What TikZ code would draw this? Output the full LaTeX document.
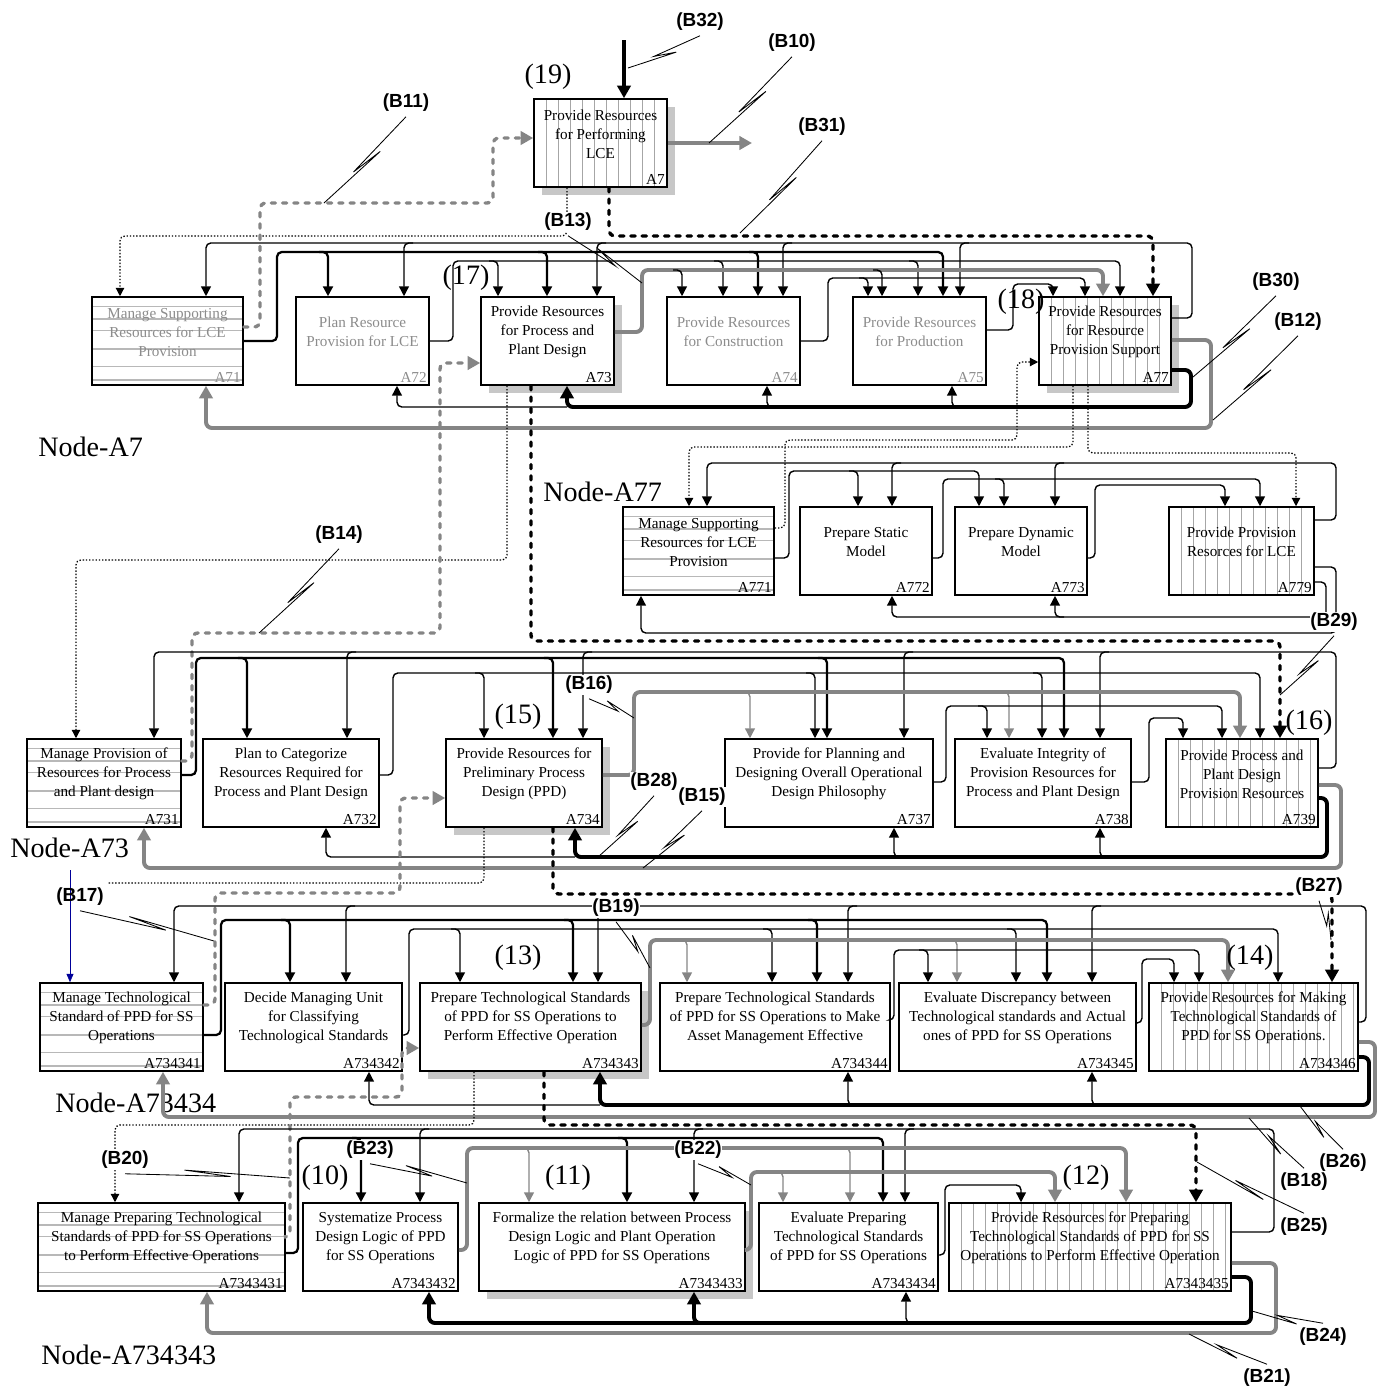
\documentclass[tikz,border=0pt]{standalone}
\usepackage{fontspec}
\setmainfont{Liberation Serif}
\setsansfont{Liberation Sans}
\usetikzlibrary{calc,arrows.meta}

\newcommand{\boxfont}{\fontsize{10.8}{13.5}\selectfont}
\newcommand{\blabfont}{\sffamily\bfseries\fontsize{13.5}{15}\selectfont}
\newcommand{\numfont}{\fontsize{20}{22}\selectfont}
\newcommand{\nodefont}{\fontsize{20}{22}\selectfont}
\newcommand{\squig}[2]{\draw[leader] (#1) -- ($(#1)!.64!(#2)$) -- ($(#1)!.36!(#2)!1.3mm!90:(#2)$) -- (#2);}

\tikzset{
    box/.style={draw, line width=1.1pt, fill=white, minimum height=22mm, inner sep=0pt},
    wd/.style={minimum width=#1*0.25mm},
    boxtext/.style={align=center, font=\boxfont, inner sep=0pt},
    idtag/.style={anchor=south east, inner sep=2pt, font=\boxfont},
    dim/.style={text=black!45},
    shadowed/.style={preaction={fill=black!22, transform canvas={shift={(2mm,-2mm)}}}},
    vlines/.style={path picture={
        \foreach \i in {1,...,24}
            \draw[black!35, line width=0.5pt] ([xshift=\i*3mm]path picture bounding box.south west) -- ([xshift=\i*3mm]path picture bounding box.north west);}},
    hlines/.style={path picture={
        \foreach \f in {.11,.25,.38,.59,.79,.94}
            \draw[black!28, line width=1.1pt] ($(path picture bounding box.north west)!\f!(path picture bounding box.south west)$) -- ($(path picture bounding box.north east)!\f!(path picture bounding box.south east)$);}},
    conn/.style={line width=1pt, rounded corners=1.2mm, -{Triangle[length=7pt,width=7pt]}},
    connb/.style={conn, line width=1.6pt},
    greyconn/.style={conn, draw=black!48},
    back/.style={line width=2.8pt, rounded corners=1.5mm, -{Triangle[length=9pt,width=9.5pt]}},
    greyback/.style={back, draw=black!48},
    dashback/.style={back, line width=2.4pt, line cap=round, dash pattern=on 3pt off 5pt},
    greydash/.style={greyback, line width=2.4pt, line cap=round, dash pattern=on 3pt off 5pt},
    dotconn/.style={line width=0.9pt, rounded corners=1.2mm, dash pattern=on 1pt off 1.3pt, -{Triangle[length=6pt,width=6pt]}},
    dotline/.style={line width=0.9pt, rounded corners=1.2mm, dash pattern=on 1pt off 1.3pt},
    bluearr/.style={draw=blue!60!black, line width=0.5pt, -{Triangle[length=6pt,width=5pt]}},
    leader/.style={line width=0.6pt},
    blab/.style={font=\blabfont, fill=white, inner sep=0.5pt, outer sep=3pt},
    numlab/.style={font=\numfont, inner sep=0pt},
    nodelab/.style={font=\nodefont, anchor=west, inner sep=0pt}
}

\begin{document}
\begin{tikzpicture}[x=0.25mm, y=-0.25mm]
\useasboundingbox (0,0) rectangle (1378,1390);

% ===== top activity =====
\node[box, wd=133, vlines, shadowed, label={[idtag]south east:A7}] (a7) at (600.5,143) {};
\node[boxtext] (a7-t) at ([yshift=2.2mm]a7.center) {Provide Resources\\for Performing\\LCE};

% ===== Node-A7 =====
\node[box, wd=151, hlines, label={[idtag,dim]south east:A71}] (a71) at (167.5,341) {};
\node[boxtext, dim] (a71-t) at ([yshift=2.2mm]a71.center) {Manage Supporting\\Resources for LCE\\Provision};
\node[box, wd=133, label={[idtag,dim]south east:A72}] (a72) at (362.5,341) {};
\node[boxtext, dim] (a72-t) at ([yshift=2.2mm]a72.center) {Plan Resource\\Provision for LCE};
\node[box, wd=133, shadowed, label={[idtag]south east:A73}] (a73) at (547.5,341) {};
\node[boxtext] (a73-t) at ([yshift=2.2mm]a73.center) {Provide Resources\\for Process and\\Plant Design};
\node[box, wd=133, label={[idtag,dim]south east:A74}] (a74) at (733.5,341) {};
\node[boxtext, dim] (a74-t) at ([yshift=2.2mm]a74.center) {Provide Resources\\for Construction};
\node[box, wd=133, label={[idtag,dim]south east:A75}] (a75) at (919.5,341) {};
\node[boxtext, dim] (a75-t) at ([yshift=2.2mm]a75.center) {Provide Resources\\for Production};
\node[box, wd=132, vlines, shadowed, label={[idtag]south east:A77}] (a77) at (1105,341) {};
\node[boxtext] (a77-t) at ([yshift=2.2mm]a77.center) {Provide Resources\\for Resource\\Provision Support};

% ===== Node-A77 =====
\node[box, wd=151, hlines, label={[idtag]south east:A771}] (a771) at (698.5,551) {};
\node[boxtext] (a771-t) at ([yshift=2.2mm]a771.center) {Manage Supporting\\Resources for LCE\\Provision};
\node[box, wd=132, label={[idtag]south east:A772}] (a772) at (866,551) {};
\node[boxtext] (a772-t) at ([yshift=2.2mm]a772.center) {Prepare Static\\Model};
\node[box, wd=132, label={[idtag]south east:A773}] (a773) at (1021,551) {};
\node[boxtext] (a773-t) at ([yshift=2.2mm]a773.center) {Prepare Dynamic\\Model};
\node[box, wd=145, vlines, label={[idtag]south east:A779}] (a779) at (1241.5,551) {};
\node[boxtext] (a779-t) at ([yshift=2.2mm]a779.center) {Provide Provision\\Resorces for LCE};

% ===== Node-A73 =====
\node[box, wd=154, hlines, label={[idtag]south east:A731}] (a731) at (104,783) {};
\node[boxtext] (a731-t) at ([yshift=2.2mm]a731.center) {Manage Provision of\\Resources for Process\\and Plant design};
\node[box, wd=176, label={[idtag]south east:A732}] (a732) at (291,783) {};
\node[boxtext] (a732-t) at ([yshift=2.2mm]a732.center) {Plan to Categorize\\Resources Required for\\Process and Plant Design};
\node[box, wd=156, shadowed, label={[idtag]south east:A734}] (a734) at (524,783) {};
\node[boxtext] (a734-t) at ([yshift=2.2mm]a734.center) {Provide Resources for\\Preliminary Process\\Design (PPD)};
\node[box, wd=208, label={[idtag]south east:A737}] (a737) at (829,783) {};
\node[boxtext] (a737-t) at ([yshift=2.2mm]a737.center) {Provide for Planning and\\Designing Overall Operational\\Design Philosophy};
\node[box, wd=176, label={[idtag]south east:A738}] (a738) at (1043,783) {};
\node[boxtext] (a738-t) at ([yshift=2.2mm]a738.center) {Evaluate Integrity of\\Provision Resources for\\Process and Plant Design};
\node[box, wd=152, vlines, label={[idtag]south east:A739}] (a739) at (1242,783) {};
\node[boxtext] (a739-t) at ([yshift=2.2mm]a739.center) {Provide Process and\\Plant Design\\Provision Resources};

% ===== Node-A73434 =====
\node[box, wd=163, hlines, label={[idtag]south east:A734341}] (a734341) at (121.5,1027) {};
\node[boxtext] (a734341-t) at ([yshift=2.2mm]a734341.center) {Manage Technological\\Standard of PPD for SS\\Operations};
\node[box, wd=177, label={[idtag]south east:A734342}] (a734342) at (313.5,1027) {};
\node[boxtext] (a734342-t) at ([yshift=2.2mm]a734342.center) {Decide Managing Unit\\for Classifying\\Technological Standards};
\node[box, wd=221, shadowed, label={[idtag]south east:A734343}] (a734343) at (530.5,1027) {};
\node[boxtext] (a734343-t) at ([yshift=2.2mm]a734343.center) {Prepare Technological Standards\\of PPD for SS Operations to\\Perform Effective Operation};
\node[box, wd=230, label={[idtag]south east:A734344}] (a734344) at (775,1027) {};
\node[boxtext] (a734344-t) at ([yshift=2.2mm]a734344.center) {Prepare Technological Standards\\of PPD for SS Operations to Make\\Asset Management Effective};
\node[box, wd=237, label={[idtag]south east:A734345}] (a734345) at (1017.5,1027) {};
\node[boxtext] (a734345-t) at ([yshift=2.2mm]a734345.center) {Evaluate Discrepancy between\\Technological standards and Actual\\ones of PPD for SS Operations};
\node[box, wd=209, vlines, label={[idtag]south east:A734346}] (a734346) at (1253.5,1027) {};
\node[boxtext] (a734346-t) at ([yshift=2.2mm]a734346.center) {Provide Resources for Making\\Technological Standards of\\PPD for SS Operations.};

% ===== Node-A734343 =====
\node[box, wd=247, hlines, label={[idtag]south east:A7343431}] (a7343431) at (161.5,1247) {};
\node[boxtext] (a7343431-t) at ([yshift=2.2mm]a7343431.center) {Manage Preparing Technological\\Standards of PPD for SS Operations\\to Perform Effective Operations};
\node[box, wd=155, label={[idtag]south east:A7343432}] (a7343432) at (380.5,1247) {};
\node[boxtext] (a7343432-t) at ([yshift=2.2mm]a7343432.center) {Systematize Process\\Design Logic of PPD\\for SS Operations};
\node[box, wd=266, shadowed, label={[idtag]south east:A7343433}] (a7343433) at (612,1247) {};
\node[boxtext] (a7343433-t) at ([yshift=2.2mm]a7343433.center) {Formalize the relation between Process\\Design Logic and Plant Operation\\Logic of PPD for SS Operations};
\node[box, wd=179, label={[idtag]south east:A7343434}] (a7343434) at (848.5,1247) {};
\node[boxtext] (a7343434-t) at ([yshift=2.2mm]a7343434.center) {Evaluate Preparing\\Technological Standards\\of PPD for SS Operations};
\node[box, wd=282, vlines, label={[idtag]south east:A7343435}] (a7343435) at (1090,1247) {};
\node[boxtext] (a7343435-t) at ([yshift=2.2mm]a7343435.center) {Provide Resources for Preparing\\Technological Standards of PPD for SS\\Operations to Perform Effective Operation};

% diagram names
\node[nodelab] (nodeA7) at (38,447) {Node-A7};
\node[nodelab] (nodeA77) at (543,492) {Node-A77};
\node[nodelab] (nodeA73) at (10,848) {Node-A73};
\node[nodelab] (nodeA73434) at (55,1103) {Node-A73434};
\node[nodelab] (nodeA734343) at (41,1355) {Node-A734343};

\coordinate (ctl7) at (624,40);
\coordinate (out7) at (752,143);
\coordinate (dotend) at (107,883);
\coordinate (bluetop) at (70,870);

% ----- A7 to Node-A7 -----
\draw[back, line width=2.2pt] (ctl7) -- (ctl7 |- a7.north);
\draw[greyback] (a7.east) -- (out7);
\draw[dotconn] (567,0 |- a7.south) |- (120,236) -- (120,0 |- a71.north);
\draw[dashback] (609,0 |- a7.south) |- (1153,236) -- (1153,0 |- a77.north);
\draw[greydash] (a71.east |- 0,327) -| (260,203) -| (493,138) -- (a7.west |- 0,138);

% ----- Node-A7 -----
\draw[conn] (a77.east |- 0,318) -| (1192,243) -| (206,0 |- a71.north);
\foreach \x/\dst in {404/a72,597/a73,783/a74,960/a75}
    \draw[conn] (\x+9,243) -| (\x,0 |- \dst.north);
\draw[connb] (a71.east) -| (277,252) -| (943,0 |- a75.north);
\foreach \x/\dst in {328/a72,547/a73,758/a74}
    \draw[connb] (\x-9,252) -| (\x,0 |- \dst.north);
\draw[conn] (a72.east) -| (453,261) -| (1120,0 |- a77.north);
\foreach \x/\dst in {498/a73,723/a74,918/a75}
    \draw[conn] (\x-9,261) -| (\x,0 |- \dst.north);
\draw[greyback] (a73.east |- 0,332) -| (642,270) -| (1103,0 |- a77.north);
\foreach \x/\dst in {682/a74,882/a75}
    \draw[conn] (\x-9,270) -| (\x,0 |- \dst.north);
\draw[conn] (a74.east) -| (828,278) -| (1085,0 |- a77.north);
\draw[conn] (859,278) -| (868,0 |- a75.north);
\draw[conn] (a75.east |- 0,330) -| (1013,284) -| (1053,0 |- a77.north);
\draw[back] (a77.east |- 0,370) -| (1191,407) -| (567,0 |- a73.south);
\draw[conn] (567,407) -| (397,0 |- a72.south);
\foreach \x/\dst in {767/a74,952/a75}
    \draw[conn] (\x+9,407) -| (\x,0 |- \dst.south);
\draw[greyback] (a77.east |- 0,340) -| (1211,428) -| (206,0 |- a71.south);

% ----- A77 and A73 down -----
\draw[dotconn] (1073,0 |- a77.south) |- (689,447) -- (689,0 |- a771.north);
\draw[dotconn] (1088,0 |- a77.south) |- (1296,453) -- (1296,0 |- a779.north);
\draw[dotconn] (a771.east |- 0,528) -| (785,440) -| (1017,362) -- (a77.west |- 0,362);
\draw[dotconn] (507,0 |- a73.south) |- (76,560) -- (76,0 |- a731.north);
\draw[dashback] (531,0 |- a73.south) |- (1280,641) -- (1280,0 |- a739.north);
\draw[greydash] (a731.east |- 0,761) -| (192,633) -| (440,363) -- (a73.west |- 0,363);

% ----- Node-A77 -----
\draw[conn] (a779.east |- 0,520) -| (1336,463) -| (707,0 |- a771.north);
\foreach \x/\dst in {892/a772,1055/a773}
    \draw[conn] (\x+9,463) -| (\x,0 |- \dst.north);
\draw[conn] (a771.east |- 0,558) -| (789,471) -| (979,0 |- a773.north);
\draw[conn] (849,471) -| (858,0 |- a772.north);
\draw[conn] (a772.east |- 0,558) -| (943,479) -| (1260,0 |- a779.north);
\draw[conn] (995,479) -| (1004,0 |- a773.north);
\draw[conn] (a773.east |- 0,558) -| (1095,485) -| (1225,0 |- a779.north);
\draw[conn] (a779.east |- 0,567) -| (1336,633) -| (641,0 |- a771.south);
\draw[conn] (a779.east |- 0,582) -| (1326,617) -| (892,0 |- a772.south);
\draw[conn] (1064,617) -| (1055,0 |- a773.south);

% ----- Node-A73 -----
\draw[conn] (a739.east |- 0,768) -| (1336,652) -| (154,0 |- a731.north);
\foreach \x/\dst in {347/a732,583/a734,904/a737,1100/a738}
    \draw[conn] (\x+9,652) -| (\x,0 |- \dst.north);
\draw[connb] (a731.east |- 0,775) -| (196,658) -| (1064,0 |- a738.north);
\foreach \x/\dst in {247/a732,553/a734,827/a737}
    \draw[connb] (\x-9,658) -| (\x,0 |- \dst.north);
\draw[conn] (a732.east |- 0,775) -| (393,673) -| (1260,0 |- a739.north);
\foreach \x/\dst in {484/a734,815/a737,1042/a738}
    \draw[conn] (\x-9,673) -| (\x,0 |- \dst.north);
\draw[greyback] (a734.east |- 0,775) -| (634,692) -| (1240,0 |- a739.north);
\foreach \x/\dst in {750/a737,1009/a738}
    \draw[greyconn] (\x-9,692) -| (\x,0 |- \dst.north);
\draw[conn] (a737.east |- 0,782) -| (946,706) -| (1222,0 |- a739.north);
\draw[conn] (978,706) -| (987,0 |- a738.north);
\draw[conn] (a738.east |- 0,782) -| (1149,718) -| (1183,0 |- a739.north);
\draw[back] (a739.east |- 0,798) -| (1327,857) -| (575,0 |- a734.south);
\draw[conn] (575,857) -| (326,0 |- a732.south);
\foreach \x/\dst in {894/a737,1100/a738}
    \draw[conn] (\x+9,857) -| (\x,0 |- \dst.south);
\draw[greyback] (a739.east |- 0,785) -| (1341,868) -| (144,0 |- a731.south);

% ----- A734 down -----
\draw[dashback] (553,0 |- a734.south) |- (1332,894) -- (1332,0 |- a734346.north);
\draw[dotline] (484,0 |- a734.south) |- (dotend);
\draw[greydash] (a734341.east |- 0,1005) -| (215,893) -| (400,798) -- (a734.west |- 0,798);
\draw[bluearr] (bluetop) -- (bluetop |- a734341.north);

% ----- Node-A73434 -----
\draw[conn] (a734346.east |- 0,1022) -| (1366,906) -| (174,0 |- a734341.north);
\foreach \x/\dst in {346/a734342,598/a734343,848/a734344,1092/a734345}
    \draw[conn] (\x+9,906) -| (\x,0 |- \dst.north);
\draw[connb] (a734341.east |- 0,1035) -| (221,920) -| (1047,0 |- a734345.north);
\foreach \x/\dst in {290/a734342,573/a734343,817/a734344}
    \draw[connb] (\x-9,920) -| (\x,0 |- \dst.north);
\draw[conn] (a734342.east |- 0,1035) -| (409,929) -| (1278,0 |- a734346.north);
\foreach \x/\dst in {460/a734343,772/a734344,1016/a734345}
    \draw[conn] (\x-9,929) -| (\x,0 |- \dst.north);
\draw[greyback] (a734343.east |- 0,1025) -| (650,940) -| (1228,0 |- a734346.north);
\foreach \x/\dst in {687/a734344,957/a734345}
    \draw[greyconn] (\x-9,940) -| (\x,0 |- \dst.north);
\draw[conn] (a734344.east |- 0,1020) -| (894,950) -| (1199,0 |- a734346.north);
\draw[conn] (919,950) -| (928,0 |- a734345.north);
\draw[conn] (a734345.east |- 0,1023) -| (1142,959) -| (1174,0 |- a734346.north);
\draw[back] (a734346.east |- 0,1057) -| (1369,1105) -| (600,0 |- a734343.south);
\draw[conn] (600,1105) -| (369,0 |- a734342.south);
\foreach \x/\dst in {848/a734344,1092/a734345}
    \draw[conn] (\x+9,1105) -| (\x,0 |- \dst.south);
\draw[greyback] (a734346.east |- 0,1042) -| (1375,1117) -| (163,0 |- a734341.south);

% ----- A734343 down -----
\draw[dashback] (544,0 |- a734343.south) |- (1196,1125) -- (1196,0 |- a7343435.north);
\draw[dotconn] (474,0 |- a734343.south) |- (115,1125) -- (115,0 |- a7343431.north);
\draw[greydash] (a7343431.east |- 0,1237) -| (290,1097) -| (402,1048) -- (a734343.west |- 0,1048);

% ----- Node-A734343 -----
\draw[conn] (a7343435.east |- 0,1232) -| (1274,1129) -| (239,0 |- a7343431.north);
\foreach \x/\dst in {420/a7343432,694/a7343433,905/a7343434}
    \draw[conn] (\x+9,1129) -| (\x,0 |- \dst.north);
\draw[connb] (a7343431.east |- 0,1253) -| (298,1138) -| (883,0 |- a7343434.north);
\foreach \x/\dst in {361/a7343432,627/a7343433}
    \draw[connb] (\x-9,1138) -| (\x,0 |- \dst.north);
\draw[greyback] (a7343432.east |- 0,1250) -| (467,1148) -| (1126,0 |- a7343435.north);
\foreach \x/\dst in {529/a7343433,850/a7343434}
    \draw[greyconn] (\x-9,1148) -| (\x,0 |- \dst.north);
\draw[greyback] (a7343433.east |- 0,1250) -| (751,1172) -| (1055,0 |- a7343435.north);
\draw[greyconn] (774,1172) -| (783,0 |- a7343434.north);
\draw[conn] (a7343434.east |- 0,1255) -| (945,1185) -| (1021,0 |- a7343435.north);
\draw[back] (a7343435.east |- 0,1277) -| (1251,1323) -| (429,0 |- a7343432.south);
\draw[back] (703,1323) -| (694,0 |- a7343433.south);
\draw[conn] (915,1323) -| (906,0 |- a7343434.south);
\draw[greyback] (a7343435.east |- 0,1263) -| (1276,1333) -| (207,0 |- a7343431.south);

% ----- branch labels -----
\node[blab] (b32) at (700,22) {(B32)};
\node[blab] (b10) at (792,43) {(B10)};
\node[blab] (b31) at (822,127) {(B31)};
\node[blab] (b11) at (406,103) {(B11)};
\node[blab] (b13) at (568,222) {(B13)};
\node[blab] (b30) at (1276,282) {(B30)};
\node[blab] (b12) at (1298,322) {(B12)};
\node[blab] (b14) at (339,535) {(B14)};
\node[blab] (b16) at (589,685) {(B16)};
\node[blab] (b28) at (654,782) {(B28)};
\node[blab] (b15) at (702,797) {(B15)};
\node[blab] (b29) at (1334,622) {(B29)};
\node[blab] (b27) at (1319,887) {(B27)};
\node[blab, fill=none] (b17) at (80,897) {(B17)};
\node[blab] (b19) at (616,908) {(B19)};
\node[blab] (b20) at (125,1160) {(B20)};
\node[blab] (b23) at (370,1150) {(B23)};
\node[blab] (b22) at (698,1150) {(B22)};
\node[blab] (b26) at (1343,1163) {(B26)};
\node[blab] (b18) at (1304,1182) {(B18)};
\node[blab] (b25) at (1304,1227) {(B25)};
\node[blab] (b24) at (1323,1337) {(B24)};
\node[blab] (b21) at (1267,1378) {(B21)};

\squig{b32.south}{628,68}
\squig{b10.south}{709,143}
\squig{b31.south}{740,233}
\squig{b11.south}{324,203}
\squig{b13.south}{642,283}
\squig{b30.south}{1193,377}
\squig{b12.south}{1213,420}
\squig{b14.south}{259,633}
\squig{b16.south}{634,718}
\squig{b28.south}{598,857}
\squig{b15.south}{643,868}
\squig{b29.south}{1280,695}
\squig{b27.south}{1331,940}
\squig{b17.south}{214,941}
\squig{b19.south}{650,968}
\squig{b20.south}{290,1178}
\squig{b23.south}{467,1183}
\squig{b22.south}{751,1185}
\squig{b26.north}{1300,1106}
\squig{b18.north}{1249,1118}
\squig{b25.north}{1197,1162}
\squig{b24.north}{1252,1311}
\squig{b21.north}{1189,1334}

% ----- numbers -----
\node[numlab] (n19) at (548,77) {(19)};
\node[numlab] (n17) at (466,278) {(17)};
\node[numlab] (n18) at (1021,302) {(18)};
\node[numlab] (n15) at (518,717) {(15)};
\node[numlab] (n16) at (1309,723) {(16)};
\node[numlab] (n13) at (518,958) {(13)};
\node[numlab] (n14) at (1250,958) {(14)};
\node[numlab] (n10) at (325,1178) {(10)};
\node[numlab] (n11) at (568,1178) {(11)};
\node[numlab] (n12) at (1086,1178) {(12)};

\end{tikzpicture}
\end{document}
